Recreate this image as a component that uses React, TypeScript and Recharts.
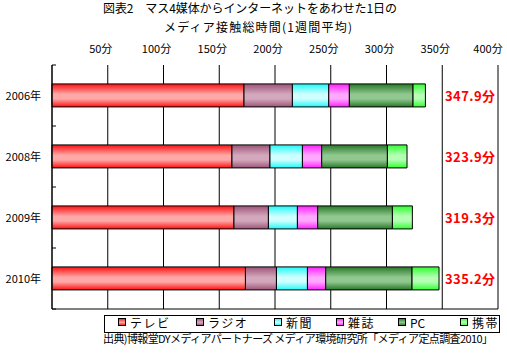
import React from "react";
import { BarChart, Bar, XAxis, YAxis, CartesianGrid } from "recharts";

// data (minutes per day)
const years = ["2006年", "2008年", "2009年", "2010年"];
const tv = [172.2, 161.4, 163.2, 173.5];
const radio = [43.4, 34.1, 30.9, 27.8];
const newspaper = [32.6, 29.1, 26.0, 27.8];
const magazine = [18.5, 17.3, 18.2, 16.4];
const pc = [57.1, 58.9, 67.0, 77.4];
const mobile = [11.1, 17.6, 17.9, 24.2];
const totalLabels = ["347.9分", "323.9分", "319.3分", "335.2分"];
const xTicks = [0, 50, 100, 150, 200, 250, 300, 350, 400];

const seriesKeys = ["tv", "radio", "newspaper", "magazine", "pc", "mobile"];
const seriesNames = ["テレビ", "ラジオ", "新聞", "雑誌", "PC", "携帯"];
const edgeColors = ["#ff1010", "#9c5478", "#20f8f8", "#ff20ff", "#287828", "#30ff30"];
const midColors = ["#ffa8a8", "#d4a8bc", "#d0ffff", "#ffa8ff", "#90c890", "#b4ffb4"];
const legendX = [118, 196, 274, 336, 398, 460];

const rows = years.map((year, i) => ({
  year,
  total: totalLabels[i],
  tv: tv[i],
  radio: radio[i],
  newspaper: newspaper[i],
  magazine: magazine[i],
  pc: pc[i],
  mobile: mobile[i],
}));

const FONT = "'Noto Sans CJK JP', 'Noto Sans', sans-serif";
const W = 507;
const H = 353;
const PLOT_LEFT = 52;
const PLOT_TOP = 65;
const PLOT_BOTTOM = 309;
const BAND = (PLOT_BOTTOM - PLOT_TOP) / years.length;

const TopTick = (props: any) => {
  const { x, y, payload } = props;
  if (payload.value === 0) return null;
  return (
    <text x={x - 7} y={y - 4} textAnchor="middle" fontSize={11} fontFamily={FONT} fill="#000">
      {payload.value + "分"}
    </text>
  );
};

const YearTick = (props: any) => {
  const { y, payload, index } = props;
  const last = index === years.length - 1;
  return (
    <g>
      <text x={41} y={y + 4} textAnchor="end" fontSize={11} fontFamily={FONT} fill="#000">
        {payload.value}
      </text>
      <line x1={PLOT_LEFT} x2={PLOT_LEFT + 4} y1={y - BAND / 2} y2={y - BAND / 2} stroke="#000" />
      {last && (
        <line x1={PLOT_LEFT} x2={PLOT_LEFT + 4} y1={y + BAND / 2} y2={y + BAND / 2} stroke="#000" />
      )}
    </g>
  );
};

const TotalTick = (props: any) => {
  const { y, payload } = props;
  return (
    <text
      x={495}
      y={y + 5}
      textAnchor="end"
      fontSize={13}
      fontWeight="bold"
      fontFamily={FONT}
      fill="#ff0000"
      textLength={50}
      lengthAdjust="spacing"
    >
      {payload.value}
    </text>
  );
};

export default function App() {
  return (
    <div style={{ position: "absolute", left: 0, top: 0, width: W, height: H, background: "#fff" }}>
      <BarChart
        width={W}
        height={H}
        data={rows}
        layout="vertical"
        margin={{ top: 35, right: 9, bottom: 43, left: 0 }}
        barCategoryGap="31%"
      >
        <defs>
          {seriesKeys.map((k, i) => (
            <linearGradient key={k} id={"g_" + k} x1="0" y1="0" x2="0" y2="1">
              <stop offset="0%" stopColor={edgeColors[i]} />
              <stop offset="45%" stopColor={midColors[i]} />
              <stop offset="65%" stopColor={midColors[i]} />
              <stop offset="100%" stopColor={edgeColors[i]} />
            </linearGradient>
          ))}
        </defs>
        <CartesianGrid xAxisId="top" yAxisId="left" horizontal={false} stroke="#000" strokeOpacity={1} />
        <XAxis
          xAxisId="top"
          orientation="top"
          type="number"
          domain={[0, 400]}
          ticks={xTicks}
          height={30}
          axisLine={false}
          tickLine={false}
          tick={<TopTick />}
        />
        <XAxis
          xAxisId="bottom"
          orientation="bottom"
          type="number"
          domain={[0, 400]}
          height={1}
          tick={false}
          tickLine={false}
          axisLine={{ stroke: "#000" }}
        />
        <YAxis
          yAxisId="left"
          type="category"
          dataKey="year"
          width={52}
          axisLine={{ stroke: "#000" }}
          tickLine={false}
          tick={<YearTick />}
        />
        <YAxis
          yAxisId="right"
          orientation="right"
          mirror
          type="category"
          dataKey="total"
          axisLine={false}
          tickLine={false}
          tick={<TotalTick />}
        />
        {seriesKeys.map((k, i) => (
          <Bar
            key={k}
            xAxisId="top"
            yAxisId="left"
            dataKey={k}
            name={seriesNames[i]}
            stackId="a"
            fill={"url(#g_" + k + ")"}
            stroke="#000"
            strokeWidth={1}
            isAnimationActive={false}
          />
        ))}
      </BarChart>
      <svg width={W} height={H} style={{ position: "absolute", left: 0, top: 0, pointerEvents: "none" }}>
        <defs>
          {seriesKeys.map((k, i) => (
            <linearGradient key={k} id={"lg_" + k} x1="0" y1="0" x2="0" y2="1">
              <stop offset="0%" stopColor={edgeColors[i]} />
              <stop offset="55%" stopColor={midColors[i]} />
              <stop offset="100%" stopColor={edgeColors[i]} />
            </linearGradient>
          ))}
        </defs>
        <text x={103} y={13} fontSize={12} fontFamily={FONT} textLength={294} lengthAdjust="spacing">
          図表2　マス4媒体からインターネットをあわせた1日の
        </text>
        <text x={164} y={32} fontSize={12} fontFamily={FONT} textLength={188} lengthAdjust="spacing">
          メディア接触総時間(1週間平均)
        </text>
        <rect x={104.5} y={315.5} width={395} height={17} fill="none" stroke="#000" />
        {seriesNames.map((name, i) => (
          <g key={name}>
            <rect
              x={legendX[i] + 0.5}
              y={318.5}
              width={7}
              height={7}
              fill={"url(#lg_" + seriesKeys[i] + ")"}
              stroke="#000"
            />
            <text
              x={legendX[i] + 12}
              y={327.5}
              fontSize={12}
              fontFamily={FONT}
              letterSpacing={name === "PC" ? 0 : 1.5}
            >
              {name}
            </text>
          </g>
        ))}
        <text x={103} y={343} fontSize={11} fontFamily={FONT} textLength={390} lengthAdjust="spacing">
          出典)博報堂DYメディアパートナーズ メディア環境研究所「メディア定点調査2010」
        </text>
      </svg>
    </div>
  );
}
